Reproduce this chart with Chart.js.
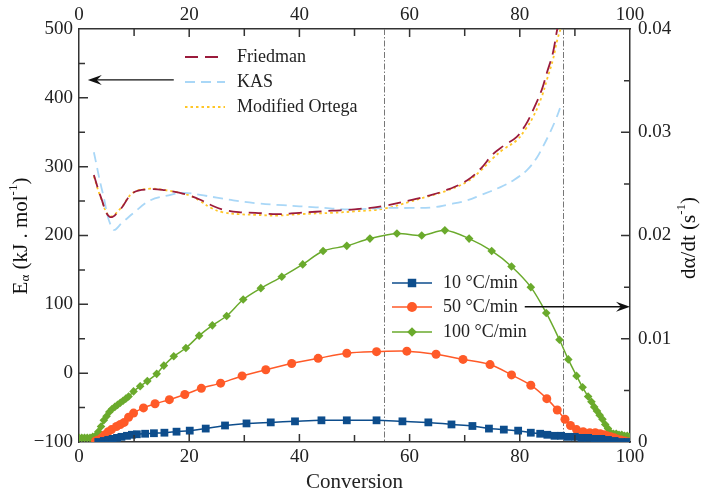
<!DOCTYPE html>
<html>
<head>
<meta charset="utf-8">
<script src="https://cdn.jsdelivr.net/npm/chart.js@4.4.1/dist/chart.umd.min.js"></script>
<style>
  html, body { margin: 0; padding: 0; background: #fff; }
</style>
</head>
<body>
<canvas id="chart" width="702" height="499"></canvas>
<script>
// activation energy curves (left axis, kJ/mol)
const friedmanConv = [2.7, 4.0, 5.6, 7.5, 9.8, 12.9, 15.5, 18.3, 20.1, 22.0, 24.0, 26.0, 29.0, 32.0, 36.0, 40.0, 46.0, 50.0, 55.4, 60.0, 63.0, 66.7, 70.4, 73.0, 75.1, 77.0, 79.4, 81.0, 82.4, 84.0, 84.9, 86.0, 86.8, 87.6];
const friedmanE    = [288, 255, 227, 238, 262, 267, 266, 262, 258, 252, 244, 238, 234, 233, 231, 233, 236, 238, 243, 251, 257, 266, 280, 298, 318, 330, 343, 360, 382, 412, 436, 465, 500, 530];

const kasConv = [2.7, 4.3, 6.2, 8.0, 9.8, 12.9, 16.0, 19.0, 22.0, 25.0, 28.0, 32.0, 37.0, 43.0, 49.0, 55.4, 60.0, 64.3, 67.0, 70.4, 73.0, 76.4, 79.0, 81.3, 83.0, 84.2, 85.5, 86.5, 87.3];
const kasE    = [321, 262, 209, 220, 232, 251, 258, 262, 259, 255, 251, 247, 244, 241, 238, 240, 240, 241, 245, 251, 259, 270, 281, 295, 312, 329, 350, 368, 385];

const ortegaConv = [2.7, 4.0, 5.6, 7.5, 9.8, 12.9, 15.5, 18.3, 20.1, 22.0, 24.0, 26.0, 29.0, 32.0, 36.0, 40.0, 46.0, 50.0, 55.4, 60.0, 63.0, 66.7, 70.4, 73.0, 75.1, 77.0, 79.4, 81.0, 82.4, 84.0, 84.9, 86.0, 86.8, 87.6];
const ortegaE    = [286, 254, 228, 239, 262, 268, 266, 262, 258, 250, 240, 234, 231, 230, 229, 231, 233, 235, 239, 249, 256, 265, 278, 295, 312, 325, 338, 354, 372, 402, 426, 455, 484, 505];

// conversion rate curves (right axis, 1/s)
const rate10Conv = [3.5, 4.5, 5.3, 6.1, 6.9, 7.7, 8.7, 9.6, 10.5, 12.0, 13.6, 15.5, 17.7, 20.1, 23.0, 26.5, 30.4, 34.8, 39.2, 44.0, 48.6, 54.0, 58.7, 63.4, 67.6, 71.4, 74.4, 77.1, 79.7, 82.0, 83.7, 85.0, 86.3, 87.5, 88.7, 90.0, 91.2, 92.4, 93.6, 94.8, 96.0, 97.2, 98.4, 99.6];
const rate10     = [0.0, 0.0001, 0.0002, 0.0003, 0.0004, 0.0005, 0.0006, 0.0007, 0.00075, 0.0008, 0.00085, 0.0009, 0.0010, 0.0011, 0.0013, 0.0016, 0.0018, 0.0019, 0.0020, 0.0021, 0.0021, 0.0021, 0.0020, 0.0019, 0.0017, 0.00155, 0.0013, 0.0012, 0.0011, 0.0009, 0.0008, 0.0007, 0.0006, 0.0006, 0.0005, 0.0005, 0.0004, 0.0004, 0.0003, 0.0003, 0.0002, 0.0001, 0.0, 0.0];

const rate50Conv = [3.0, 3.5, 4.1, 4.7, 5.3, 5.9, 6.8, 7.5, 8.2, 9.0, 9.9, 11.7, 13.8, 16.4, 19.2, 22.2, 25.7, 29.6, 33.9, 38.6, 43.4, 48.6, 54.0, 59.5, 64.8, 69.7, 74.6, 78.5, 82.0, 84.9, 86.8, 88.2, 89.2, 90.3, 91.5, 92.7, 93.7, 94.6, 95.3, 95.8, 96.5, 97.1, 97.6, 98.3, 99.0, 99.7];
const rate50     = [0.0001, 0.0002, 0.0004, 0.0007, 0.0010, 0.0012, 0.0015, 0.0017, 0.0019, 0.0024, 0.0028, 0.0033, 0.0037, 0.0041, 0.0046, 0.0052, 0.0057, 0.0064, 0.0070, 0.0076, 0.0081, 0.0086, 0.00875, 0.0088, 0.0085, 0.0080, 0.0075, 0.0065, 0.0055, 0.0042, 0.0031, 0.0022, 0.0016, 0.0012, 0.0010, 0.0009, 0.0009, 0.0008, 0.0007, 0.0006, 0.0005, 0.0004, 0.0003, 0.0002, 0.0001, 0.0];

const rate100Conv = [0, 0.5, 1.0, 1.5, 2.0, 2.5, 3.0, 3.5, 4.0, 4.5, 5.0, 5.5, 6.0, 6.5, 7.0, 7.5, 8.0, 8.5, 9.0, 9.9, 11.1, 12.4, 14.1, 15.4, 17.2, 19.4, 21.8, 24.2, 26.8, 29.8, 33.0, 36.8, 40.6, 44.3, 48.6, 52.8, 57.7, 62.2, 66.4, 70.8, 74.9, 78.5, 82.0, 84.8, 87.2, 88.8, 90.3, 91.4, 92.4, 93.0, 93.5, 94.0, 94.5, 95.0, 95.5, 96.0, 96.5, 97.0, 97.5, 98.0, 98.5, 99.0, 99.5, 100];
const rate100     = [0.0004, 0.0004, 0.0004, 0.0004, 0.0004, 0.0005, 0.0006, 0.0010, 0.0015, 0.0021, 0.0025, 0.0029, 0.0032, 0.0034, 0.0036, 0.0038, 0.0040, 0.0042, 0.0044, 0.0049, 0.0054, 0.0059, 0.0066, 0.0074, 0.0083, 0.0091, 0.0103, 0.0113, 0.0122, 0.0138, 0.0149, 0.0160, 0.0172, 0.0185, 0.0190, 0.0197, 0.0202, 0.0200, 0.0205, 0.0197, 0.0185, 0.0170, 0.0150, 0.0125, 0.0099, 0.0080, 0.0064, 0.0053, 0.0044, 0.0039, 0.0034, 0.0030, 0.0026, 0.0022, 0.0017, 0.0013, 0.0009, 0.0008, 0.0008, 0.0007, 0.0007, 0.0006, 0.0006, 0.0005];

// dash-dot markers and arrows
const vLines = [55.4, 87.8];
const leftArrow = {from: 17.2, to: 1.6, e: 426};
const rightArrow = {from: 80.9, to: 100, rate: 0.0131};

const FONT = "'Liberation Serif', 'Times New Roman', serif";
const toXY = (xs, ys) => xs.map((x, i) => ({x: x, y: ys[i]}));

const colors = {
    friedman: '#9b1b3c',
    kas: '#a9d7f7',
    ortega: '#ffc626',
    r10: '#0d4d8c',
    r50: '#ff5a28',
    r100: '#6aaa2c'
};

const eLines = [
    {label: 'Friedman', data: toXY(friedmanConv, friedmanE), color: colors.friedman, dash: [13, 7], width: 1.8},
    {label: 'KAS', data: toXY(kasConv, kasE), color: colors.kas, dash: [10, 6], width: 1.8},
    {label: 'Modified Ortega', data: toXY(ortegaConv, ortegaE), color: colors.ortega, dash: [2.5, 3], width: 1.8}
];
const rateLines = [
    {label: '10 \u00b0C/min', data: toXY(rate10Conv, rate10), color: colors.r10, style: 'rect', radius: 5.5},
    {label: '50 \u00b0C/min', data: toXY(rate50Conv, rate50), color: colors.r50, style: 'circle', radius: 4.5},
    {label: '100 \u00b0C/min', data: toXY(rate100Conv, rate100), color: colors.r100, style: 'rectRot', radius: 4.3}
];

let datasets = [];
eLines.forEach(function (s) {
    datasets.push({
        label: s.label, data: s.data, yAxisID: 'y', xAxisID: 'x',
        borderColor: s.color, borderDash: s.dash, borderWidth: s.width,
        pointRadius: 0, tension: 0.4, fill: false
    });
});
rateLines.forEach(function (s) {
    datasets.push({
        label: s.label, data: s.data, yAxisID: 'y2', xAxisID: 'x',
        borderColor: s.color, backgroundColor: s.color, borderWidth: 1.5,
        pointStyle: s.style, pointRadius: s.radius, pointBorderWidth: 0,
        pointBackgroundColor: s.color, tension: 0.3, fill: false
    });
});

function drawMarker(ctx, style, r, x, y, color) {
    ctx.save();
    ctx.fillStyle = color;
    ctx.beginPath();
    if (style === 'rect') {
        const s = r * Math.SQRT1_2;
        ctx.rect(x - s, y - s, 2 * s, 2 * s);
    } else if (style === 'circle') {
        ctx.arc(x, y, r, 0, Math.PI * 2);
    } else {
        ctx.moveTo(x, y - r); ctx.lineTo(x + r, y); ctx.lineTo(x, y + r); ctx.lineTo(x - r, y);
        ctx.closePath();
    }
    ctx.fill();
    ctx.restore();
}

function drawArrow(ctx, x0, x1, y) {
    const dir = x1 > x0 ? 1 : -1;
    ctx.save();
    ctx.strokeStyle = '#111';
    ctx.fillStyle = '#111';
    ctx.lineWidth = 1.3;
    ctx.beginPath();
    ctx.moveTo(x0, y);
    ctx.lineTo(x1 - dir * 6, y);
    ctx.stroke();
    ctx.beginPath();
    ctx.moveTo(x1, y);
    ctx.lineTo(x1 - dir * 14, y - 5);
    ctx.lineTo(x1 - dir * 9, y);
    ctx.lineTo(x1 - dir * 14, y + 5);
    ctx.closePath();
    ctx.fill();
    ctx.restore();
}

// draws rotated text made of runs: [text, size, shift]
function drawRotatedRuns(ctx, runs, cx, cy) {
    ctx.save();
    ctx.fillStyle = '#111';
    ctx.textBaseline = 'middle';
    let total = 0;
    runs.forEach(function (r) {
        ctx.font = r[1] + 'px ' + FONT;
        total += ctx.measureText(r[0]).width;
    });
    ctx.translate(cx, cy);
    ctx.rotate(-Math.PI / 2);
    let x = -total / 2;
    runs.forEach(function (r) {
        ctx.font = r[1] + 'px ' + FONT;
        ctx.fillText(r[0], x, r[2]);
        x += ctx.measureText(r[0]).width;
    });
    ctx.restore();
}

const decorPlugin = {
    id: 'decor',
    beforeDatasetsDraw: function (chart) {
        const ctx = chart.ctx, xs = chart.scales.x, a = chart.chartArea;
        ctx.save();
        ctx.strokeStyle = '#777';
        ctx.lineWidth = 1;
        ctx.setLineDash([6, 2, 1.5, 2]);
        vLines.forEach(function (v) {
            const px = Math.round(xs.getPixelForValue(v)) + 0.5;
            ctx.beginPath();
            ctx.moveTo(px, a.top);
            ctx.lineTo(px, a.bottom);
            ctx.stroke();
        });
        ctx.restore();
    },
    afterDraw: function (chart) {
        const ctx = chart.ctx, a = chart.chartArea;
        const xs = chart.scales.x, ys = chart.scales.y, y2 = chart.scales.y2;

        // inward ticks
        ctx.save();
        ctx.strokeStyle = '#333';
        ctx.lineWidth = 1.5;
        ctx.beginPath();
        for (let v = 10; v < 100; v += 10) {
            const px = xs.getPixelForValue(v);
            const len = v % 20 === 0 ? 8 : 7;
            ctx.moveTo(px, a.bottom); ctx.lineTo(px, a.bottom - len);
            ctx.moveTo(px, a.top); ctx.lineTo(px, a.top + len);
        }
        for (let v = -50; v < 500; v += 50) {
            const py = ys.getPixelForValue(v);
            const len = v % 100 === 0 ? 9 : 6;
            ctx.moveTo(a.left, py); ctx.lineTo(a.left + len, py);
        }
        for (let i = 1; i < 8; i++) {
            const py = y2.getPixelForValue(i * 0.005);
            const len = i % 2 === 0 ? 9 : 6;
            ctx.moveTo(a.right, py); ctx.lineTo(a.right - len, py);
        }
        ctx.stroke();
        ctx.restore();

        // arrows
        drawArrow(ctx, xs.getPixelForValue(leftArrow.from), xs.getPixelForValue(leftArrow.to), ys.getPixelForValue(leftArrow.e));
        drawArrow(ctx, xs.getPixelForValue(rightArrow.from), xs.getPixelForValue(rightArrow.to), y2.getPixelForValue(rightArrow.rate));

        // legend for E curves
        ctx.save();
        ctx.font = '18px ' + FONT;
        ctx.textBaseline = 'middle';
        const topRows = [57, 82, 107];
        eLines.forEach(function (s, i) {
            ctx.strokeStyle = s.color;
            ctx.lineWidth = s.width;
            ctx.setLineDash(s.dash);
            ctx.beginPath();
            ctx.moveTo(185, topRows[i]);
            ctx.lineTo(225, topRows[i]);
            ctx.stroke();
            ctx.setLineDash([]);
            ctx.fillStyle = '#222';
            ctx.fillText(s.label, 237, topRows[i]);
        });
        // legend for rate curves
        const botRows = [283, 307, 332];
        rateLines.forEach(function (s, i) {
            ctx.strokeStyle = s.color;
            ctx.lineWidth = 1.5;
            ctx.beginPath();
            ctx.moveTo(392, botRows[i]);
            ctx.lineTo(432, botRows[i]);
            ctx.stroke();
            drawMarker(ctx, s.style, s.radius + 0.5, 412, botRows[i], s.color);
            ctx.fillStyle = '#222';
            ctx.fillText(s.label, 443, botRows[i]);
        });
        ctx.restore();

        // axis titles
        drawRotatedRuns(ctx, [['E', 21, 0], ['\u03b1', 13, 5], [' (kJ . mol', 21, 0], ['-1', 13, -7], [')', 21, 0]], 21, 236);
        drawRotatedRuns(ctx, [['d\u03b1/dt (s', 21, 0], ['-1', 13, -7], [')', 21, 0]], 689, 238);
    }
};

const tickFont = {family: FONT, size: 19};

new Chart(document.getElementById('chart').getContext('2d'), {
    type: 'line',
    data: {datasets: datasets},
    options: {
        responsive: false,
        animation: false,
        events: [],
        layout: {padding: 0},
        plugins: {legend: {display: false}, tooltip: {enabled: false}},
        scales: {
            x: {
                type: 'linear', position: 'bottom', min: 0, max: 100,
                grid: {display: false, drawTicks: false},
                border: {color: '#333', width: 1.5},
                ticks: {stepSize: 20, font: tickFont, color: '#222', padding: 4, maxRotation: 0},
                title: {display: true, text: 'Conversion', font: {family: FONT, size: 21}, color: '#222', padding: {top: 1}},
                afterFit: function (s) { s.height = 57; }
            },
            x2: {
                type: 'linear', position: 'top', min: 0, max: 100,
                grid: {display: false, drawTicks: false},
                border: {color: '#333', width: 1.5},
                ticks: {stepSize: 20, font: tickFont, color: '#222', padding: 3, maxRotation: 0},
                afterFit: function (s) { s.height = 29; }
            },
            y: {
                type: 'linear', position: 'left', min: -100, max: 500,
                grid: {display: false, drawTicks: false},
                border: {color: '#333', width: 1.5},
                ticks: {
                    stepSize: 100, font: tickFont, color: '#222', padding: 6,
                    callback: function (v) { return v < 0 ? '\u2212' + Math.abs(v) : String(v); }
                },
                afterFit: function (s) { s.width = 79; }
            },
            y2: {
                type: 'linear', position: 'right', min: 0, max: 0.04,
                grid: {display: false, drawTicks: false},
                border: {color: '#333', width: 1.5},
                ticks: {
                    stepSize: 0.01, font: tickFont, color: '#222', padding: 8,
                    callback: function (v) { return Math.abs(v) < 1e-9 ? '0' : v.toFixed(2); }
                },
                afterFit: function (s) { s.width = 72; }
            }
        }
    },
    plugins: [decorPlugin]
});
</script>
</body>
</html>
